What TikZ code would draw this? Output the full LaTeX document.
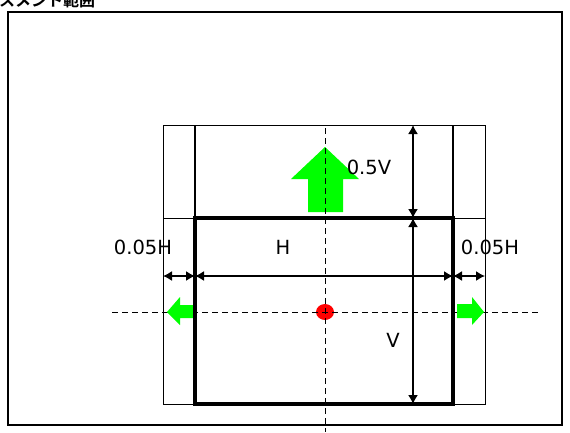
\documentclass[tikz,border=0pt]{standalone}
\usepackage{fontspec}
\setmainfont{DejaVu Sans}
\newfontfamily\cjkfont{Noto Sans CJK JP}[BoldFont={* Bold}]
\usetikzlibrary{arrows.meta}
\definecolor{brightgreen}{RGB}{0,255,0}
\definecolor{dotred}{RGB}{255,0,0}
\tikzset{
  thinline/.style={line width=1pt, draw=black},
  midline/.style={line width=1.8pt, draw=black},
  thickline/.style={line width=3.5pt, draw=black, line cap=rect},
  frameline/.style={line width=2pt, draw=black},
  dimline/.style={line width=1.4pt, {Latex[length=9pt,width=10pt]}-{Latex[length=9pt,width=10pt]}},
  axisline/.style={line width=1pt, dash pattern=on 6pt off 4pt},
  label/.style={font=\fontsize{19.5pt}{19.5pt}\selectfont, inner sep=0pt},
  greenarrow/.style={fill=brightgreen, draw=none},
}
\begin{document}
\begin{tikzpicture}[x=1pt,y=-1pt]
\useasboundingbox (0,0) rectangle (570,432);
% coordinates
\coordinate (FA) at (8,12);
\coordinate (FB) at (562,425);
\coordinate (OTL) at (163,125);
\coordinate (OBR) at (485,404);
\coordinate (ITL) at (195,218);
\coordinate (IBR) at (453,404);
\coordinate (ITR) at (453,218);
\coordinate (IBL) at (195,404);
\coordinate (UL) at (195,125);
\coordinate (UR) at (453,125);
\coordinate (ML) at (163,218);
\coordinate (MR) at (485,218);
% title
\node[anchor=base west, inner sep=0pt, font=\cjkfont\bfseries\fontsize{16pt}{16pt}\selectfont] (title) at (-1,6) {スメント範囲};
% outer frame
\draw[frameline] (FA) rectangle (FB);
% thin outer rectangle
\draw[thinline] (OTL) rectangle (OBR);
\draw[thinline] (ML) -- (MR);
\draw[midline] (UL) -- (ITL);
\draw[midline] (UR) -- (ITR);
% green up arrow
\fill[greenarrow] (325,147) -- (359,179) -- (343,179) -- (343,212) -- (308,212) -- (308,179) -- (291,179) -- cycle;
% red dot
\fill[dotred] (325,312) ellipse [x radius=9, y radius=8];
% dashed axes
\coordinate (VT) at (325,128);
\coordinate (VB) at (325,432);
\coordinate (HL) at (112,312);
\coordinate (HR) at (538,312);
\draw[axisline] (VT) -- (VB);
\draw[axisline] (HL) -- (HR);
% side green arrows
\fill[greenarrow] (167,312) -- (180,297) -- (180,305) -- (195,305) -- (195,318) -- (180,318) -- (180,325) -- cycle;
\fill[greenarrow] (484,312) -- (472,297) -- (472,304) -- (457,304) -- (457,318) -- (472,318) -- (472,325) -- cycle;
% thick inner rectangle
\draw[thickline] (ITL) rectangle (IBR);
% dimensions
\coordinate (dL1) at (163,276);
\coordinate (dL2) at (195,276);
\coordinate (dR1) at (453,276);
\coordinate (dR2) at (485,276);
\coordinate (dV1) at (413,125);
\coordinate (dV2) at (413,218);
\coordinate (dV3) at (413,404);
\draw[dimline] (dL1) -- (dL2);
\draw[dimline] (dL2) -- (dR1);
\draw[dimline] (dR1) -- (dR2);
\draw[dimline] (dV1) -- (dV2);
\draw[dimline] (dV2) -- (dV3);
% labels
\node[label] (l05v) at (369,167) {0.5V};
\node[label] (l05hl) at (143,247) {0.05H};
\node[label] (l05hr) at (490,247) {0.05H};
\node[label] (lh) at (283,247) {H};
\node[label] (lv) at (393,340) {V};
\end{tikzpicture}
\end{document}
